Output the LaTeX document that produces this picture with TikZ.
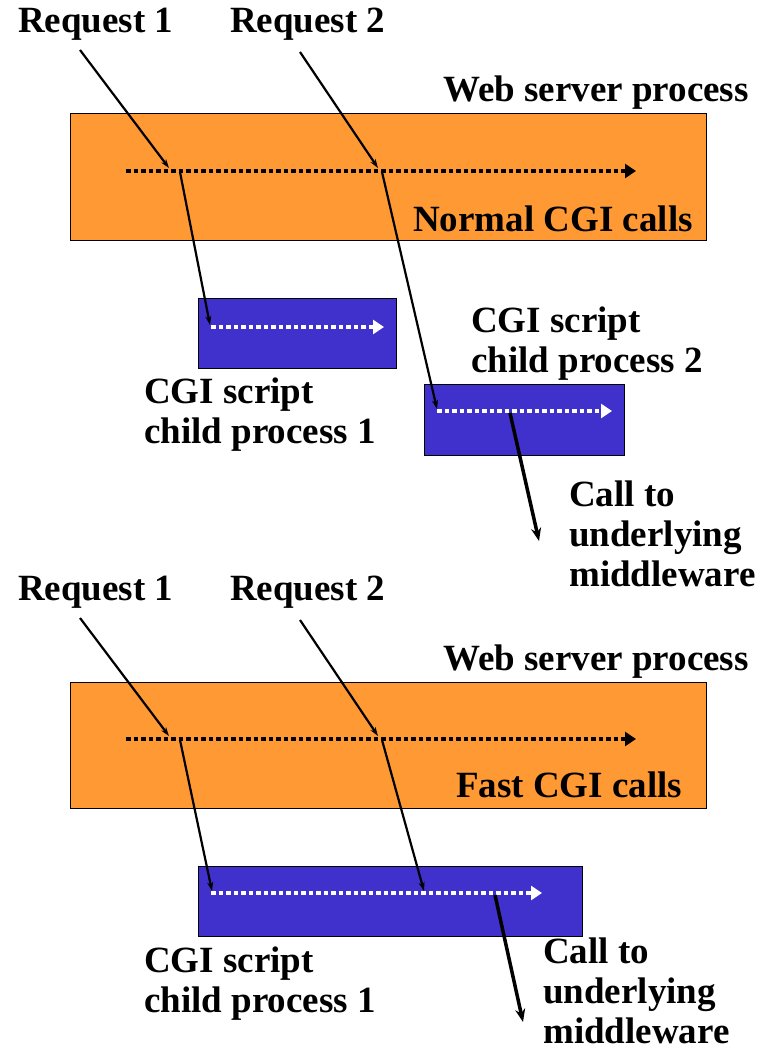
\documentclass[tikz,border=0pt]{standalone}
\usepackage{fontspec}
\setmainfont{Liberation Serif}
\usetikzlibrary{arrows.meta}
\definecolor{procorange}{RGB}{255,153,51}
\definecolor{childblue}{RGB}{64,48,204}

\begin{document}
\begin{tikzpicture}[x=1pt,y=-1pt,
  lbl/.style={anchor=base west,inner sep=0pt,align=left,font=\fontsize{37}{40}\selectfont\bfseries},
  proc/.style={fill=procorange,draw=black,line width=1pt},
  child/.style={fill=childblue,draw=black,line width=1pt},
  flow/.style={line width=4.5pt,dash pattern=on 4.5pt off 3pt,-{Triangle[length=11pt,width=14pt]}},
  req/.style={line width=2.2pt,-{Stealth[length=9pt,width=6pt]}},
  call/.style={line width=3.5pt,-{Stealth[length=13pt,width=10pt]}}]
\useasboundingbox (0,0) rectangle (761,1051);

% normal CGI
\draw[proc] (70,114) rectangle (706,240);
\draw[child] (198,298) rectangle (396,368);
\draw[child] (424,384) rectangle (624,455);
\node[lbl] (req1) at (18,33) {Request 1};
\node[lbl] (req2) at (230,33) {Request 2};
\node[lbl] (web) at (443,102) {Web server process};
\node[lbl] (normal) at (413,231) {Normal CGI calls};
\node[lbl] (cgi1) at (144,443) {CGI script\\child process 1};
\node[lbl] (cgi2) at (471,372) {CGI script\\child process 2};
\node[lbl] (mw) at (569,586) {Call to\\underlying\\middleware};
\coordinate (s1) at (126,171);
\coordinate (e1) at (636,171);
\coordinate (r1a) at (80,50);
\coordinate (r1b) at (169,168);
\coordinate (r1c) at (180,172);
\coordinate (r1d) at (210,325);
\coordinate (r2a) at (300,52);
\coordinate (r2b) at (378,168);
\coordinate (r2c) at (382,172);
\coordinate (r2d) at (437,409);
\coordinate (c1s) at (211,327);
\coordinate (c1e) at (384,327);
\coordinate (c2s) at (437,411);
\coordinate (c2e) at (612,411);
\coordinate (m1) at (510,413);
\coordinate (m2) at (539,541);
\draw[flow] (s1) -- (e1);
\draw[flow,white] (c1s) -- (c1e);
\draw[flow,white] (c2s) -- (c2e);
\draw[req] (r1a) -- (r1b);
\draw[req] (r1c) -- (r1d);
\draw[req] (r2a) -- (r2b);
\draw[req] (r2c) -- (r2d);
\draw[call] (m1) -- (m2);

% fast CGI
\draw[proc] (70,682) rectangle (706,808);
\draw[child] (198,866) rectangle (582,936);
\node[lbl] (freq1) at (18,600) {Request 1};
\node[lbl] (freq2) at (230,600) {Request 2};
\node[lbl] (fweb) at (443,670) {Web server process};
\node[lbl] (fast) at (456,797) {Fast CGI calls};
\node[lbl] (fcgi1) at (144,1012) {CGI script\\child process 1};
\node[lbl] (fmw) at (543,1043) {Call to\\underlying\\middleware};
\coordinate (fs1) at (126,739);
\coordinate (fe1) at (636,739);
\coordinate (f1a) at (80,618);
\coordinate (f1b) at (169,736);
\coordinate (f1c) at (180,740);
\coordinate (f1d) at (212,891);
\coordinate (f2a) at (300,620);
\coordinate (f2b) at (378,736);
\coordinate (f2c) at (382,740);
\coordinate (f2d) at (424,891);
\coordinate (fcs) at (211,893);
\coordinate (fce) at (542,893);
\coordinate (fm1) at (495,895);
\coordinate (fm2) at (523,1022);
\draw[flow] (fs1) -- (fe1);
\draw[flow,white] (fcs) -- (fce);
\draw[req] (f1a) -- (f1b);
\draw[req] (f1c) -- (f1d);
\draw[req] (f2a) -- (f2b);
\draw[req] (f2c) -- (f2d);
\draw[call] (fm1) -- (fm2);
\end{tikzpicture}
\end{document}
